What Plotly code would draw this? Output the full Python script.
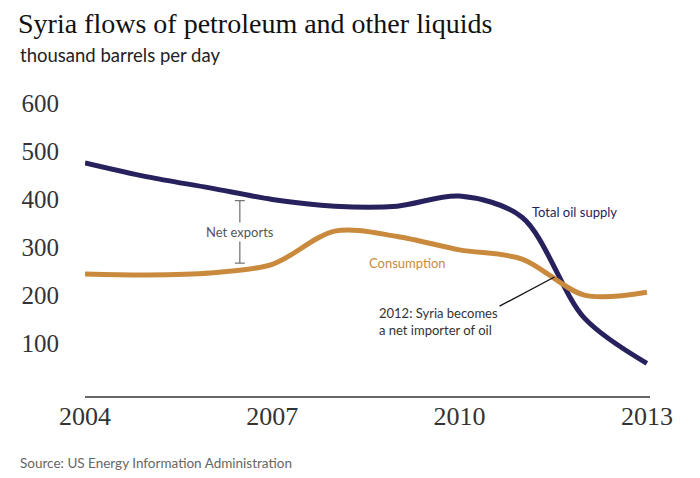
import plotly.graph_objects as go

# ─── data (thousand barrels per day) ───────────────
years = [2004, 2005, 2006, 2007, 2008, 2009, 2010, 2011, 2012, 2013]
supply = [475, 446, 423, 399, 385, 385, 406, 362, 152, 58]
consumption = [244, 242, 246, 264, 333, 322, 294, 275, 200, 206]

y_ticks = [100, 200, 300, 400, 500, 600]
x_ticks = [2004, 2007, 2010, 2013]

NAVY = "#27225e"
ORANGE = "#c98a3e"
SERIF = "Liberation Serif, DejaVu Serif, serif"
SANS = "Lato, Open Sans, sans-serif"

fig = go.Figure()

fig.add_trace(go.Scatter(
    x=years, y=supply, mode="lines", name="Total oil supply",
    line=dict(color=NAVY, width=5, shape="spline", smoothing=0.9),
    hoverinfo="skip",
))
fig.add_trace(go.Scatter(
    x=years, y=consumption, mode="lines", name="Consumption",
    line=dict(color=ORANGE, width=5, shape="spline", smoothing=0.9),
    hoverinfo="skip",
))

# net exports bracket
fig.add_trace(go.Scatter(
    x=[2006.48], y=[331.5], mode="markers",
    marker=dict(size=1, color="rgba(0,0,0,0)"),
    error_y=dict(type="data", array=[65], color="#777", thickness=1.3, width=5),
    hoverinfo="skip",
))

fig.add_shape(type="line", x0=2011.52, y0=237.5, x1=2010.64, y1=177,
              line=dict(color="#111", width=1.3))

fig.add_annotation(x=2006.48, y=331, text="Net exports", showarrow=False,
                   bgcolor="white", font=dict(family=SANS, size=13, color="#555"))
fig.add_annotation(x=2011.12, y=373, text="Total oil supply", showarrow=False,
                   xanchor="left", font=dict(family=SANS, size=13, color=NAVY))
fig.add_annotation(x=2008.51, y=267, text="Consumption", showarrow=False,
                   xanchor="left", font=dict(family=SANS, size=13, color=ORANGE))
fig.add_annotation(x=2008.67, y=183, text="2012: Syria becomes<br>a net importer of oil",
                   showarrow=False, xanchor="left", yanchor="top", align="left",
                   font=dict(family=SANS, size=13, color="#333"))

fig.add_annotation(x=-0.1186, y=1.144, xref="paper", yref="paper",
                   text="thousand barrels per day", showarrow=False,
                   xanchor="left", yanchor="middle",
                   font=dict(family=SANS, size=18.5, color="#222"))
fig.add_annotation(x=-0.1186, y=-0.225, xref="paper", yref="paper",
                   text="Source: US Energy Information Administration", showarrow=False,
                   xanchor="left", yanchor="middle",
                   font=dict(family=SANS, size=13.5, color="#666"))

# page body adds an 8px margin, so the figure is drawn 8px smaller
fig.update_layout(
    width=692, height=470,
    margin=dict(l=77, r=50, t=90, b=82),
    paper_bgcolor="white", plot_bgcolor="white",
    showlegend=False,
    title=dict(text="Syria flows of petroleum and other liquids",
               x=10 / 692, xanchor="left", y=1 - 5 / 470, yanchor="top",
               font=dict(family=SERIF, size=28, color="#111")),
    xaxis=dict(range=[2004, 2013.05], tickvals=x_ticks, showgrid=False,
               zeroline=False, showline=True, linecolor="#666", linewidth=2,
               ticks="", ticklabelstandoff=-4,
               tickfont=dict(family=SERIF, size=26, color="#333")),
    yaxis=dict(range=[-10, 610], tickvals=y_ticks, showgrid=False,
               zeroline=False, showline=False, ticks="", ticklabelstandoff=25,
               tickfont=dict(family=SERIF, size=25, color="#333")),
)

fig.write_html("out.html")
